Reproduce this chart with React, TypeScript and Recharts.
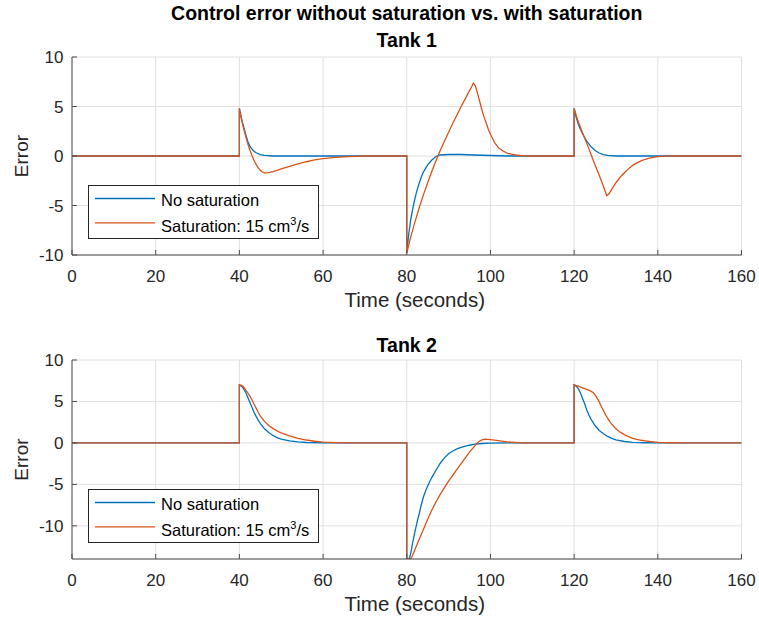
import React from 'react';
import { LineChart, Line, XAxis, YAxis, CartesianGrid, Legend } from 'recharts';

const BLUE = '#0072BD';
const ORANGE = '#D95319';
const AXIS = '#4d4d4d';
const TEXT = '#262626';
const FONT = '"Liberation Sans", Arial, Helvetica, sans-serif';

const timeTicks = [0, 20, 40, 60, 80, 100, 120, 140, 160];
const errorTicks = [-10, -5, 0, 5, 10];
const seriesNames = ['No saturation', 'Saturation: 15 cm^3/s'];

// [time, error] pairs
const tank1NoSat: [number, number][] = [
    [0, 0], [40, 0], [40, 4.8], [40.5, 3.8], [41, 3.0], [41.5, 2.2], [42, 1.5], [42.5, 1.0], [43, 0.7],
    [43.5, 0.48], [44, 0.33], [45, 0.15], [46, 0.06], [48, 0],
    [80, 0], [80, -9.8], [80.5, -7.8], [81, -6.3], [81.5, -5.2], [82, -4.2], [82.5, -3.4], [83, -2.7],
    [83.5, -2.1], [84, -1.6], [85, -0.9], [86, -0.4], [87, -0.05], [88, 0.1], [90, 0.15], [93, 0.15],
    [96, 0.1], [100, 0.05], [104, 0],
    [120, 0], [120, 4.8], [120.5, 3.9], [121, 3.2], [121.5, 2.7], [122, 2.25], [123, 1.5], [124, 0.95],
    [125, 0.55], [126, 0.3], [127, 0.15], [128, 0.07], [130, 0], [160, 0],
];

const tank1Sat: [number, number][] = [
    [0, 0], [40, 0], [40, 4.8], [40.5, 3.7], [41, 2.8], [41.5, 2.0], [42, 1.25], [42.5, 0.6], [43, 0.05],
    [43.5, -0.45], [44, -0.85], [44.5, -1.2], [45, -1.45], [45.5, -1.62], [46, -1.7], [46.5, -1.7],
    [47, -1.67], [48, -1.58], [49, -1.45], [50, -1.3], [52, -1.05], [54, -0.8], [56, -0.58], [58, -0.4],
    [60, -0.27], [63, -0.14], [66, -0.06], [70, 0],
    [80, 0], [80, -9.8], [81, -8.1], [82, -6.6], [83, -5.2], [84, -3.9], [85, -2.7], [86, -1.55],
    [87, -0.45], [88, 0.55], [89, 1.5], [90, 2.4], [91, 3.3], [92, 4.15], [93, 5.0], [94, 5.8], [95, 6.6],
    [95.5, 7.0], [95.9, 7.35], [96.4, 7.1], [97, 6.2], [97.5, 5.4], [98, 4.6], [98.5, 3.9], [99, 3.3],
    [99.5, 2.7], [100, 2.2], [101, 1.35], [102, 0.8], [103, 0.5], [104, 0.3], [105, 0.18], [106, 0.1],
    [108, 0.02], [110, 0],
    [120, 0], [120, 4.8], [120.5, 4.1], [121, 3.45], [121.5, 2.9], [122, 2.35], [123, 1.3], [124, 0.2],
    [125, -0.9], [126, -1.95], [127, -3.05], [127.8, -4.0], [128.3, -3.85], [129, -3.35], [130, -2.7],
    [131, -2.15], [132, -1.7], [133, -1.3], [134, -0.95], [135, -0.7], [136, -0.5], [137, -0.33],
    [138, -0.22], [139, -0.13], [140, -0.07], [142, -0.02], [145, 0], [160, 0],
];

const tank2NoSat: [number, number][] = [
    [0, 0], [40, 0], [40, 7.0], [40.5, 6.85], [41, 6.55], [41.5, 6.1], [42, 5.5], [42.5, 4.9], [43, 4.3],
    [43.5, 3.7], [44, 3.2], [44.5, 2.75], [45, 2.35], [46, 1.7], [47, 1.25], [48, 0.9], [49, 0.65],
    [50, 0.47], [52, 0.24], [54, 0.12], [56, 0.05], [60, 0],
    [80, 0], [80, -14], [80.6, -14], [81, -13.2], [81.5, -11.8], [82, -10.6], [82.5, -9.5], [83, -8.5],
    [83.5, -7.4], [84, -6.5], [84.5, -5.8], [85, -5.2], [85.5, -4.65], [86, -4.15], [87, -3.3], [88, -2.45],
    [89, -1.8], [90, -1.3], [91, -0.97], [92, -0.72], [93, -0.55], [94, -0.4], [95, -0.28], [96, -0.18],
    [98, -0.07], [100, -0.02], [104, 0],
    [120, 0], [120, 7.0], [120.5, 6.85], [121, 6.55], [121.5, 6.05], [122, 5.4], [122.5, 4.75], [123, 4.0],
    [123.5, 3.4], [124, 2.9], [125, 2.1], [126, 1.5], [127, 1.1], [128, 0.78], [129, 0.54], [130, 0.38],
    [132, 0.17], [134, 0.07], [137, 0.02], [140, 0], [160, 0],
];

const tank2Sat: [number, number][] = [
    [0, 0], [40, 0], [40, 7.0], [40.5, 6.95], [41, 6.75], [41.5, 6.4], [42, 6.05], [42.5, 5.65], [43, 5.2],
    [43.5, 4.7], [44, 4.2], [44.5, 3.7], [45, 3.25], [46, 2.6], [47, 2.1], [48, 1.75], [49, 1.45],
    [50, 1.2], [52, 0.85], [54, 0.55], [56, 0.35], [58, 0.2], [60, 0.1], [63, 0.04], [66, 0],
    [80, 0], [80, -14], [81, -14], [81.6, -13.3], [82, -12.8], [83, -11.6], [84, -10.4], [85, -9.2],
    [86, -8.1], [87, -7.1], [88, -6.2], [89, -5.4], [90, -4.6], [91, -3.9], [92, -3.2], [93, -2.5],
    [94, -1.8], [95, -1.1], [96, -0.5], [97, 0.05], [97.5, 0.25], [98, 0.38], [98.7, 0.45], [100, 0.4],
    [101, 0.33], [102.3, 0.25], [104, 0.13], [106, 0.05], [108, 0],
    [120, 0], [120, 7.0], [121, 6.85], [122, 6.65], [123, 6.45], [124, 6.25], [124.6, 6.05], [125, 5.8],
    [125.5, 5.4], [126, 4.95], [126.5, 4.4], [127, 3.9], [127.5, 3.4], [128, 3.0], [128.5, 2.6],
    [129, 2.25], [130, 1.7], [131, 1.3], [132, 1.0], [133, 0.75], [134, 0.55], [135, 0.42], [136, 0.32],
    [137, 0.25], [138, 0.17], [140, 0.07], [143, 0.02], [146, 0], [160, 0],
];

const toPoints = (pairs: [number, number][]) => pairs.map(([t, e]) => ({ t, e }));

const renderLegend = (props: any) => {
    const payload = props.payload || [];
    return (
        <svg width={231} height={54} style={{ display: 'block', fontFamily: FONT }}>
            <rect x={0.5} y={0.5} width={230} height={53} fill="#fff" stroke={TEXT} />
            {payload.map((entry: any, i: number) => {
                const m = String(entry.value).match(/^(.*)\^(\d)(.*)$/);
                return (
                    <g key={i}>
                        <line x1={7} x2={67} y1={13.5 + 24.4 * i} y2={13.5 + 24.4 * i} stroke={entry.color} strokeWidth={1.3} />
                        <text x={73} y={21 + 26.3 * i} fontSize={16.5} fill="#000">
                            {m ? (
                                <>
                                    {m[1]}
                                    <tspan dy={-7} fontSize={11}>{m[2]}</tspan>
                                    <tspan dy={7}>{m[3]}</tspan>
                                </>
                            ) : entry.value}
                        </text>
                    </g>
                );
            })}
        </svg>
    );
};

const yLabel = (props: any) => {
    const vb = props.viewBox || { y: 0, height: 0 };
    const cy = vb.y + vb.height / 2;
    return (
        <text x={21.5} y={cy} dy="0.35em" transform={`rotate(-90, 21.5, ${cy})`} textAnchor="middle" fontSize={19} fill={TEXT}>
            Error
        </text>
    );
};

const xLabel = (props: any) => {
    const vb = props.viewBox || { x: 0, y: 0, width: 0 };
    return (
        <text x={vb.x + vb.width / 2 + 8} y={vb.y + 51.5} textAnchor="middle" fontSize={20.5} fill={TEXT}>
            Time (seconds)
        </text>
    );
};

interface PanelProps {
    noSat: [number, number][];
    sat: [number, number][];
    yDomain: [number, number];
    top: number;
    height: number;
    marginTop: number;
    axisHeight: number;
    legendTop: number;
}

const Panel: React.FC<PanelProps> = ({ noSat, sat, yDomain, top, height, marginTop, axisHeight, legendTop }) => (
    <div style={{ position: 'absolute', left: 0, top }}>
        <LineChart width={759} height={height} margin={{ top: marginTop, right: 17.5, bottom: 0, left: 0 }}>
            <CartesianGrid stroke="#e0e0e0" />
            <XAxis
                dataKey="t"
                type="number"
                domain={[0, 160]}
                ticks={timeTicks}
                allowDataOverflow
                height={axisHeight}
                tickSize={-5}
                tickMargin={20.2}
                stroke={AXIS}
                tick={{ fill: TEXT, fontSize: 17 }}
                label={{ value: 'Time (seconds)', content: xLabel }}
            />
            <XAxis
                xAxisId="top"
                orientation="top"
                type="number"
                domain={[0, 160]}
                ticks={timeTicks}
                allowDataOverflow
                height={0}
                tickSize={-5}
                tickFormatter={() => ''}
                stroke={AXIS}
            />
            <YAxis
                type="number"
                domain={yDomain}
                ticks={errorTicks}
                allowDataOverflow
                width={72}
                tickSize={-5}
                tickMargin={13.5}
                stroke={AXIS}
                tick={{ fill: TEXT, fontSize: 17 }}
                label={{ value: 'Error', content: yLabel }}
            />
            <YAxis
                yAxisId="right"
                orientation="right"
                type="number"
                domain={yDomain}
                ticks={errorTicks}
                allowDataOverflow
                width={0}
                tickSize={-5}
                tickFormatter={() => ''}
                stroke={AXIS}
            />
            <Legend
                layout="horizontal"
                verticalAlign="middle"
                align="center"
                wrapperStyle={{ left: 88, top: legendTop, width: 231, height: 54 }}
                content={renderLegend}
            />
            <Line
                data={toPoints(noSat)}
                dataKey="e"
                name={seriesNames[0]}
                type="linear"
                stroke={BLUE}
                strokeWidth={1.3}
                dot={false}
                isAnimationActive={false}
            />
            <Line
                data={toPoints(sat)}
                dataKey="e"
                name={seriesNames[1]}
                type="linear"
                stroke={ORANGE}
                strokeWidth={1.3}
                dot={false}
                isAnimationActive={false}
            />
        </LineChart>
    </div>
);

const titleStyle: React.CSSProperties = {
    position: 'absolute',
    left: 72,
    width: 669.5,
    textAlign: 'center',
    fontWeight: 'bold',
    fontSize: 19.5,
    lineHeight: 1,
    color: '#000',
    whiteSpace: 'nowrap',
};

const App: React.FC = () => (
    <div style={{ position: 'absolute', left: 0, top: 0, width: 759, height: 619, background: '#fff', fontFamily: FONT }}>
        <div style={{ ...titleStyle, top: 3.5 }}>Control error without saturation vs. with saturation</div>
        <div style={{ ...titleStyle, top: 30.5 }}>Tank 1</div>
        <div style={{ ...titleStyle, top: 335.8 }}>Tank 2</div>
        <Panel noSat={tank1NoSat} sat={tank1Sat} yDomain={[-10, 10]} top={0} height={320} marginTop={57} axisHeight={65} legendTop={185} />
        <Panel noSat={tank2NoSat} sat={tank2Sat} yDomain={[-14, 10]} top={320} height={299} marginTop={40} axisHeight={60} legendTop={169} />
    </div>
);

export default App;
